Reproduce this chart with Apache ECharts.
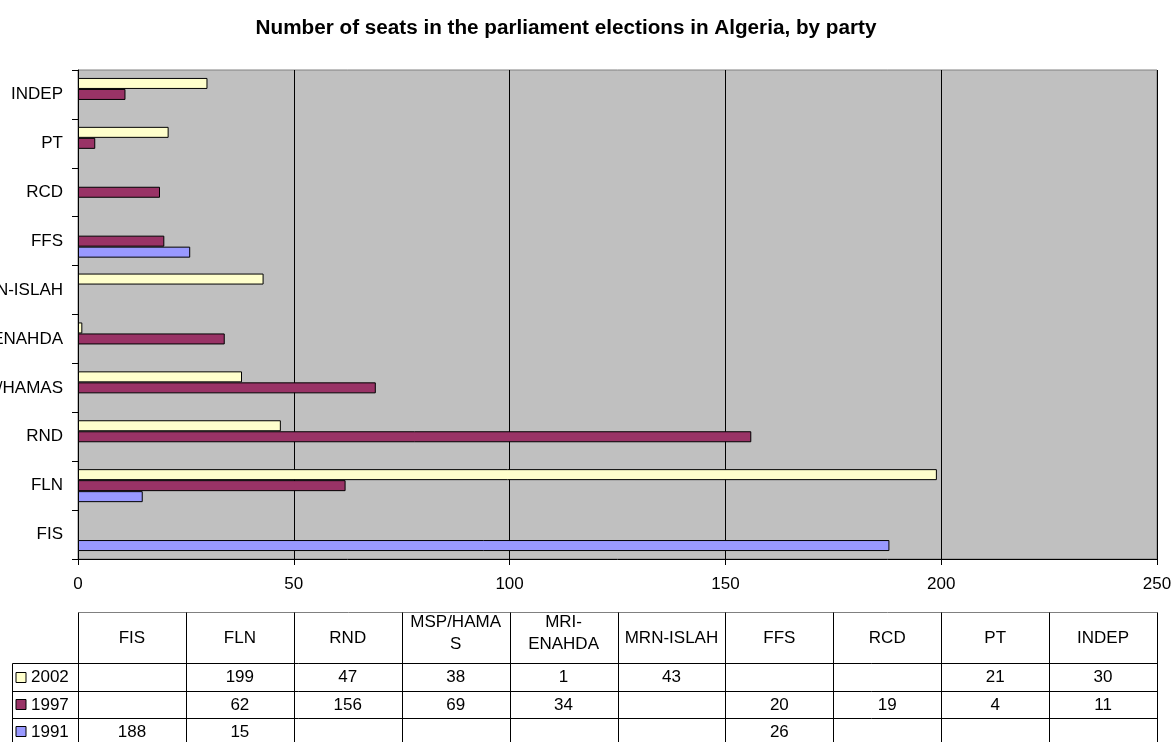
<!DOCTYPE html>
<html>
<head>
<meta charset="utf-8">
<script src="https://cdn.jsdelivr.net/npm/echarts@6/dist/echarts.min.js"></script>
<style>
  html, body { margin: 0; padding: 0; background: #ffffff; }
  #chart { width: 1175px; height: 742px; }
</style>
</head>
<body>
<div id="chart"></div>
<script>
// ---- data ----
var titleText = 'Number of seats in the parliament elections in Algeria, by party';
var categories = ['FIS', 'FLN', 'RND', 'MSP/HAMAS', 'MRI-ENAHDA', 'MRN-ISLAH', 'FFS', 'RCD', 'PT', 'INDEP'];
var seriesNames = ['2002', '1997', '1991'];
var seats2002 = [null, 199, 47, 38, 1, 43, null, null, 21, 30];
var seats1997 = [null, 62, 156, 69, 34, null, 20, 19, 4, 11];
var seats1991 = [188, 15, null, null, null, null, 26, null, null, null];
var seriesColors = ['#FFFFCC', '#993366', '#9999FF'];
var xTicks = { min: 0, max: 250, interval: 50 };

var seriesValues = [seats2002, seats1997, seats1991];

// ---- layout ----
var FONT = '"Liberation Sans", Arial, sans-serif';
var gridLeft = 78, gridRight = 1157, gridTop = 70, gridBottom = 559;

var chart = echarts.init(document.getElementById('chart'), null, { renderer: 'canvas' });

var series = seriesNames.map(function (name, i) {
  return {
    name: name,
    type: 'bar',
    data: seriesValues[i],
    barWidth: 11,
    barGap: '0%',
    itemStyle: { color: seriesColors[i], borderColor: '#000000', borderWidth: 1 },
    emphasis: { disabled: true },
    animation: false
  };
});

// ---- data table built from arrays ----
var measureCanvas = document.createElement('canvas').getContext('2d');
function textW(t, size) {
  measureCanvas.font = size + 'px ' + FONT;
  return measureCanvas.measureText(t).width;
}
function wrapHeader(t, maxW, size) {
  if (textW(t, size) <= maxW) return t;
  var h = t.indexOf('-');
  if (h > 0 && textW(t.slice(0, h + 1), size) <= maxW) {
    return t.slice(0, h + 1) + '\n' + t.slice(h + 1);
  }
  var line = '', out = [];
  for (var k = 0; k < t.length; k++) {
    if (textW(line + t[k], size) > maxW && line) { out.push(line); line = t[k]; }
    else line += t[k];
  }
  out.push(line);
  return out.join('\n');
}

var tblTop = 612.5, hdrBottom = 663.5;
var rowTops = [663.5, 691.5, 718.5, 746];
var legLeft = 12.5;
var colW = (gridRight - gridLeft) / categories.length;
var fs = 17;
var graphics = [];
function line(x1, y1, x2, y2, c) {
  graphics.push({ type: 'line', silent: true, shape: { x1: x1, y1: y1, x2: x2, y2: y2 },
    style: { stroke: c || '#000000', lineWidth: 1 } });
}
function text(t, x, y, align) {
  var s = { text: t, x: x, y: y, fill: '#000000', font: fs + 'px ' + FONT,
    align: align || 'center', verticalAlign: 'middle', lineHeight: 22 };
  graphics.push({ type: 'text', silent: true, style: s });
}
// top of header
line(gridLeft + 0.5, tblTop, gridRight + 0.5, tblTop, '#808080');
// vertical column lines
for (var c = 0; c <= categories.length; c++) {
  var xx = Math.round(gridLeft + c * colW) + 0.5;
  line(xx, tblTop, xx, 742);
}
// horizontal row lines
for (var r = 0; r < 3; r++) {
  line(legLeft, rowTops[r], gridRight + 0.5, rowTops[r]);
}
line(legLeft, hdrBottom, legLeft, 742);
// header texts
categories.forEach(function (cat, i) {
  var wrapped = wrapHeader(cat, colW - 8, fs);
  var cy = wrapped.indexOf('\n') >= 0 ? 633 : 638;
  text(wrapped, gridLeft + (i + 0.5) * colW, cy);
});
// rows
seriesNames.forEach(function (name, r) {
  var cy = (rowTops[r] + rowTops[r + 1]) / 2;
  graphics.push({ type: 'rect', silent: true,
    shape: { x: 16, y: Math.round(cy) - 5.5, width: 10, height: 10 },
    style: { fill: seriesColors[r], stroke: '#000000', lineWidth: 1 } });
  text(name, 31, cy, 'left');
  seriesValues[r].forEach(function (v, i) {
    if (v !== null && v !== undefined) {
      text(String(v), gridLeft + (i + 0.5) * colW, cy);
    }
  });
});

var option = {
  backgroundColor: '#ffffff',
  animation: false,
  title: {
    text: titleText,
    left: 561, top: 13,
    textAlign: 'center',
    textStyle: { fontFamily: FONT, fontSize: 20.7, fontWeight: 'bold', color: '#000000' }
  },
  grid: {
    left: gridLeft, right: 1175 - gridRight, top: gridTop, bottom: 742 - gridBottom,
    show: true, backgroundColor: '#C0C0C0', borderColor: '#808080', borderWidth: 1,
    containLabel: false,
    outerBoundsMode: 'none'
  },
  xAxis: {
    type: 'value',
    min: xTicks.min, max: xTicks.max, interval: xTicks.interval,
    axisLine: { show: true, lineStyle: { color: '#000000', width: 1 } },
    axisTick: { show: true, length: 6, lineStyle: { color: '#000000' } },
    axisLabel: { fontFamily: FONT, fontSize: 17, color: '#000000', margin: 17 },
    splitLine: { show: true, lineStyle: { color: '#000000', width: 1 } }
  },
  yAxis: {
    type: 'category',
    data: categories,
    axisLine: { show: true, lineStyle: { color: '#000000', width: 1 } },
    axisTick: { show: true, length: 6, inside: false, lineStyle: { color: '#000000' } },
    axisLabel: { fontFamily: FONT, fontSize: 17, color: '#000000', margin: 15 },
    splitLine: { show: false }
  },
  series: series,
  graphic: graphics
};
chart.setOption(option);
</script>
</body>
</html>
